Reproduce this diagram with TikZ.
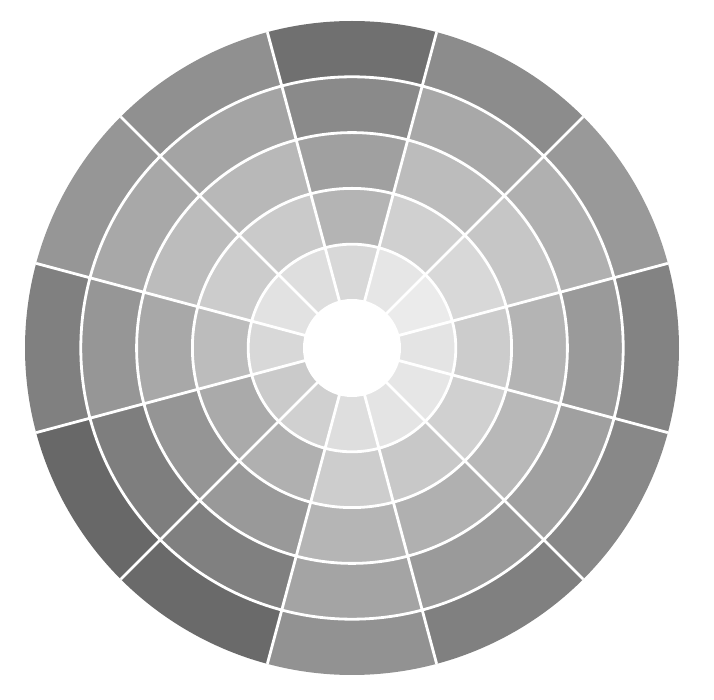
\documentclass[tikz,border=0pt]{standalone}
\usepackage{xcolor}
\tikzset{
    gap/.style={draw=white, line width=2.8pt},
    hub/.style={fill=white}
}
% one cell of the wheel: centre angle, inner radius, outer radius, grey level
\newcommand{\wheelcell}[4]{%
    \fill[fill={rgb,255:red,#4;green,#4;blue,#4}]
        (#1-15:#2) arc[start angle=#1-15, end angle=#1+15, radius=#2]
        -- (#1+15:#3) arc[start angle=#1+15, end angle=#1-15, radius=#3] -- cycle;}

\begin{document}
\begin{tikzpicture}[x=1pt, y=1pt]
    \fill[white] (-352,-352) rectangle (362,348);
    \useasboundingbox (-352,-352) rectangle (362,348);

    % grey levels, inner ring to outer ring
    \foreach \a/\gl in {0/{228,204,180,154,131}, 30/{235,216,198,176,153},
                        60/{230,208,188,168,140}, 90/{216,180,160,138,112},
                        120/{222,202,184,164,144}, 150/{226,204,188,168,150},
                        180/{216,188,168,150,128}, 210/{202,170,149,126,104},
                        240/{208,176,153,128,106}, 270/{222,205,181,164,146},
                        300/{228,200,176,154,128}, 330/{230,208,184,160,136}}{
        \foreach \g [count=\k] in \gl {
            \pgfmathsetmacro{\rin}{48+55.8*(\k-1)}
            \pgfmathsetmacro{\rout}{48+55.8*\k}
            \wheelcell{\a}{\rin}{\rout}{\g}
        }
    }

    % white rings and spokes
    \foreach \k in {1,...,4}
        \draw[gap] (0,0) circle[radius=48+55.8*\k];
    \foreach \a in {15,45,...,345}
        \draw[gap] (\a:46) -- (\a:327);
    \fill[hub] (0,0) circle[radius=49];
\end{tikzpicture}
\end{document}
